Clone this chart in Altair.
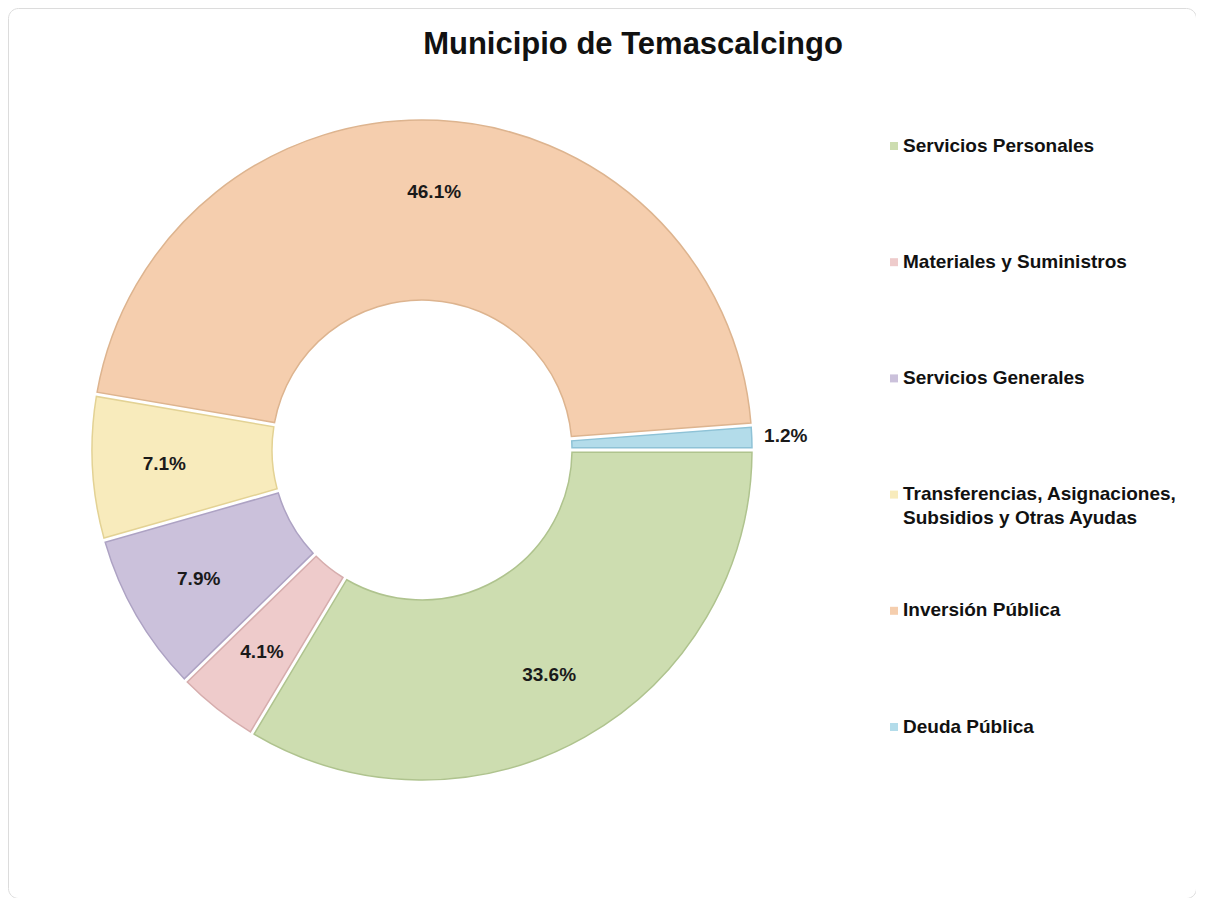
import altair as alt
import pandas as pd

TITLE = "Municipio de Temascalcingo"
categories = [
    "Servicios Personales",
    "Materiales y Suministros",
    "Servicios Generales",
    "Transferencias, Asignaciones, Subsidios y Otras Ayudas",
    "Inversión Pública",
    "Deuda Pública",
]
legend_labels = [
    "Servicios Personales",
    "Materiales y Suministros",
    "Servicios Generales",
    "Transferencias, Asignaciones,|Subsidios y Otras Ayudas",
    "Inversión Pública",
    "Deuda Pública",
]
values = [33.6, 4.1, 7.9, 7.1, 46.1, 1.2]
colors = ["#CDDDB0", "#EECBCB", "#CBC1DB", "#F8EBBC", "#F5CEAE", "#B3DCEA"]
edge_colors = ["#AFC38E", "#D6ADAD", "#ADA2C3", "#E3D294", "#DDB48F", "#8EC2D6"]

df = pd.DataFrame({
    "category": categories,
    "legend": legend_labels,
    "value": values,
    "idx": list(range(len(categories))),
})

CX, CY = 414, 442
FONT = "Liberation Sans"
color = alt.Color("category:N", sort=categories,
                  scale=alt.Scale(domain=categories, range=colors), legend=None)
stroke = alt.Stroke("category:N", sort=categories,
                    scale=alt.Scale(domain=categories, range=edge_colors), legend=None)
theta_scale = alt.Scale(domain=[0, 100], range=[1.5707963, 7.8539816])

base = alt.Chart(df)

arcs = base.mark_arc(outerRadius=330, innerRadius=150, padAngle=0.012,
                     strokeWidth=1.5).encode(
    theta=alt.Theta("value:Q", stack=True, scale=theta_scale),
    color=color, stroke=stroke, order=alt.Order("idx:Q"),
    x=alt.value(CX), y=alt.value(CY),
)

labels = base.transform_window(
    cum="sum(value)", sort=[alt.SortField("idx", order="ascending")],
    frame=[None, 0],
).transform_calculate(
    mid="datum.cum - datum.value / 2",
    lbl="format(datum.value, '.1f') + '%'",
    lr="datum.value < 2 ? 364 : 258",
).mark_text(font=FONT, fontWeight="bold", fontSize=19, color="#1a1a1a").encode(
    theta=alt.Theta("mid:Q", stack=None, scale=theta_scale),
    radius=alt.Radius("lr:Q", scale=None),
    text="lbl:N",
    x=alt.value(CX), y=alt.value(CY),
)

ly = alt.Y("category:N", sort=categories, axis=None,
           scale=alt.Scale(range=[138, 719], padding=0))

leg_sym = base.mark_square(size=64, opacity=1).encode(
    y=ly, x=alt.value(886), color=color,
)
leg_txt = base.mark_text(font=FONT, fontWeight="bold", fontSize=19,
                         align="left", baseline="top", dy=-9.5, lineBreak="|",
                         lineHeight=24, color="#111111").encode(
    y=ly, x=alt.value(895), text="legend:N",
)

title = alt.Chart(alt.Data(values=[{"t": TITLE}])).mark_text(
    font=FONT, fontWeight="bold", fontSize=31, color="#111111",
    align="center", baseline="middle",
).encode(text="t:N", x=alt.value(625), y=alt.value(37))

chart = alt.layer(arcs, labels, leg_sym, leg_txt, title).properties(
    width=1188, height=890,
    autosize=alt.AutoSizeParams(type="none"),
    padding=0,
    background="white",
).configure_view(stroke="#dcdcdc", cornerRadius=10, strokeWidth=1)

chart.save("out.html", embed_options={"renderer": "svg", "actions": False})
